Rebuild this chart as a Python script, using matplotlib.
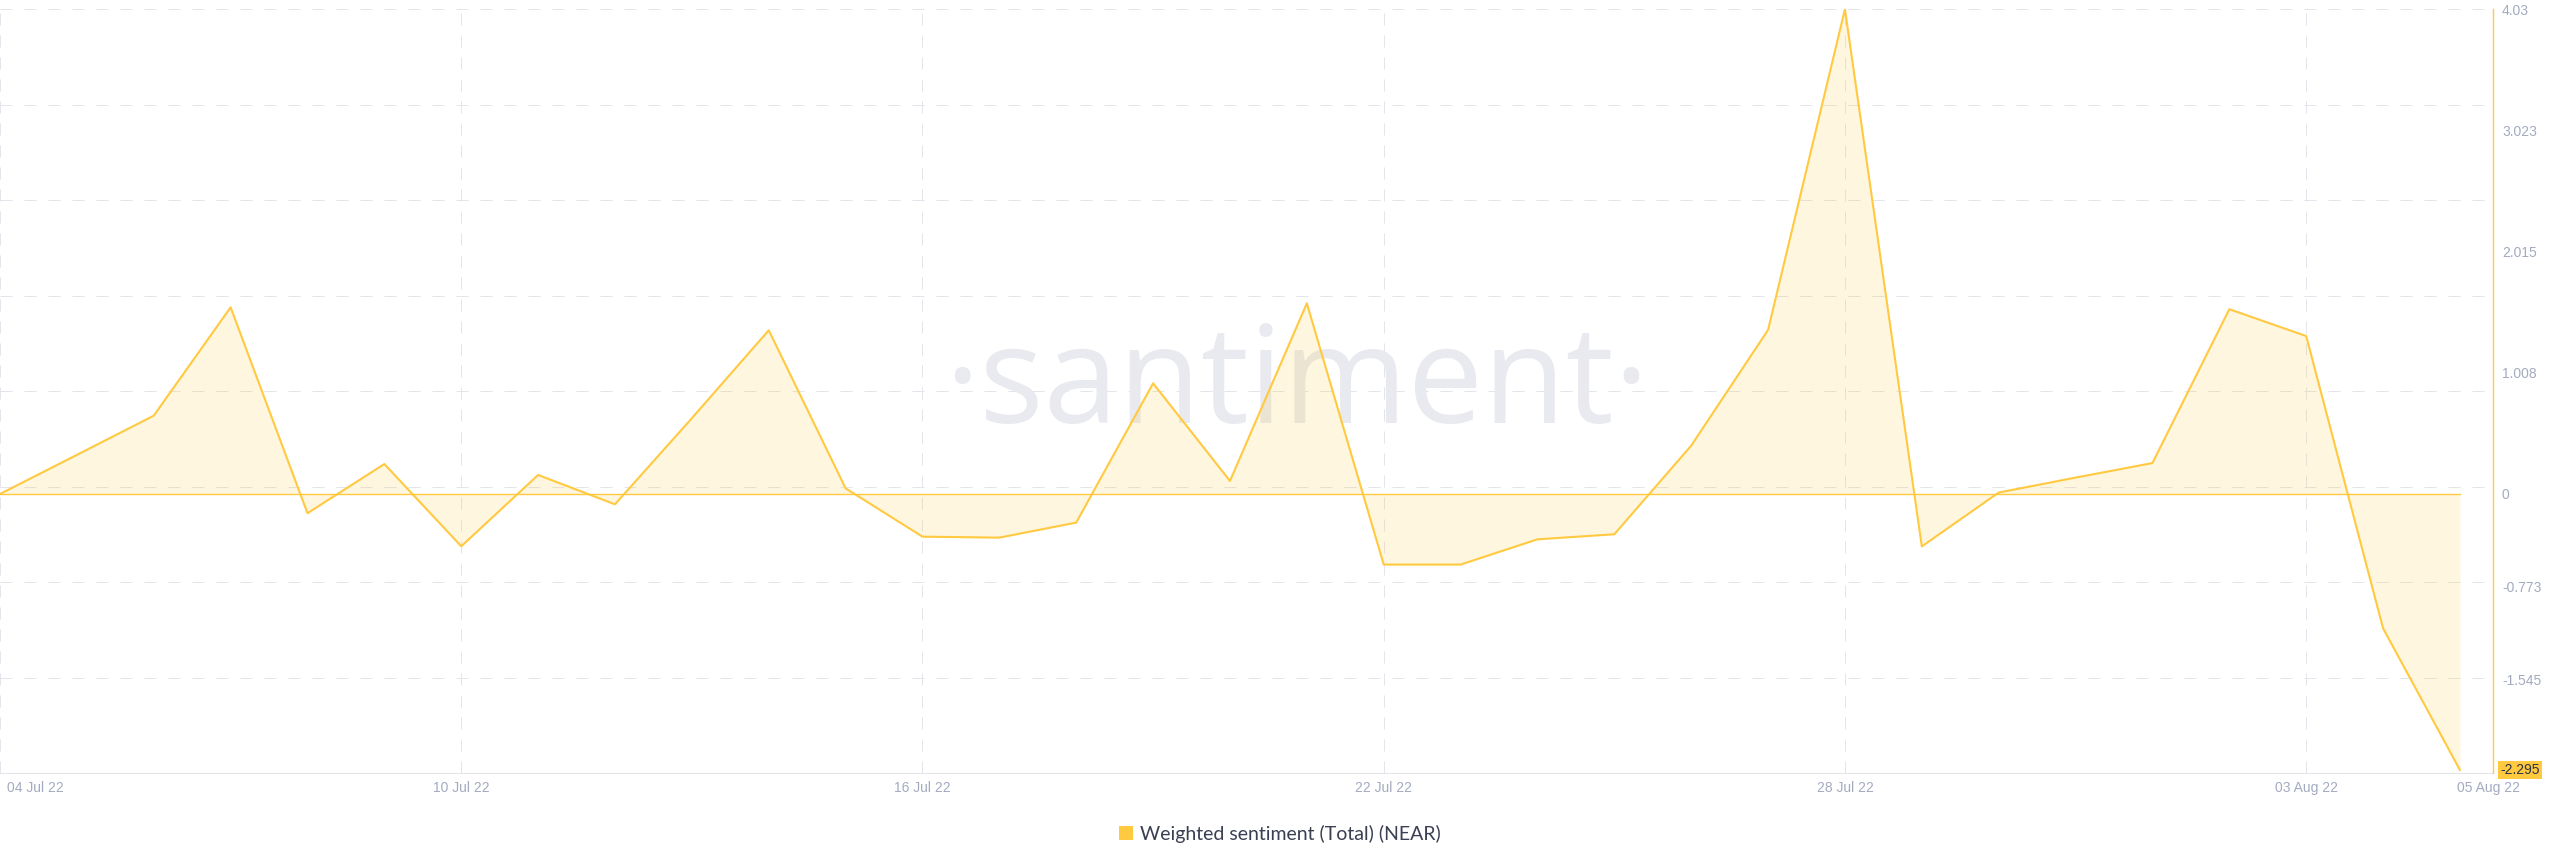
import numpy as np
import pandas as pd
import matplotlib
matplotlib.use("Agg")
import matplotlib.pyplot as plt
from matplotlib.patches import Patch
from matplotlib.transforms import ScaledTranslation

# data (one point per day)
dates = pd.date_range("2022-07-04", "2022-08-05", freq="D")
sentiment = [0.0, 0.325, 0.651, 1.552, -0.160, 0.249, -0.435, 0.158, -0.086, 0.63,
             1.361, 0.047, -0.355, -0.363, -0.238, 0.920, 0.108, 1.585, -0.587, -0.587,
             -0.377, -0.335, 0.402, 1.364, 4.03, -0.436, 0.012, 0.136, 0.257, 1.536,
             1.313, -1.117, -2.295]

ytick_vals = [4.03, 3.023, 2.015, 1.008, 0, -0.773, -1.545]
ytick_labels = ["4.03", "3.023", "2.015", "1.008", "0", "-0.773", "-1.545"]
last_label = "-2.295"

xtick_dates = pd.to_datetime(["2022-07-04", "2022-07-10", "2022-07-16",
                              "2022-07-22", "2022-07-28", "2022-08-03"])
xtick_labels = ["04 Jul 22", "10 Jul 22", "16 Jul 22", "22 Jul 22", "28 Jul 22", "03 Aug 22"]
end_label = "05 Aug 22"
series_name = "Weighted sentiment (Total) (NEAR)"

yellow = "#FFC940"
grid_c = "#e3e5eb"
tick_c = "#a4abc0"

plt.rcParams["font.family"] = ["Liberation Sans", "DejaVu Sans"]

fig = plt.figure(figsize=(25.6, 8.67), dpi=100)
ax = fig.add_axes([0, 0.1084, 0.9738, 0.8812])

ymin, ymax = -2.32, 4.032
xmin = dates[0]
xmax = dates[-1] + pd.Timedelta(hours=10.3)
ax.set_xlim(xmin, xmax)
ax.set_ylim(ymin, ymax)

# evenly spaced horizontal grid (not tied to tick values)
for k in range(8):
    gy = ymax - k * (ymax - ymin) / 8
    ax.axhline(gy, color=grid_c, lw=0.72, dashes=(12, 12), zorder=0)
for d in xtick_dates:
    ax.axvline(d, color=grid_c, lw=0.72, dashes=(12, 10), zorder=0)

# watermark
ax.text(0.52, 0.458, "\u00b7santiment\u00b7", transform=ax.transAxes, ha="center",
        va="baseline", fontsize=97, color="#e9eaef", family="Open Sans", zorder=0)

ax.fill_between(dates, sentiment, 0, color=yellow, alpha=0.16, lw=0, zorder=1)
ax.plot([dates[0], dates[-1]], [0, 0], color=yellow, lw=1.0, zorder=2)
ax.plot(dates, sentiment, color=yellow, lw=1.5, zorder=3)

for s in ["top", "left"]:
    ax.spines[s].set_visible(False)
ax.spines["right"].set_color(yellow)
ax.spines["right"].set_linewidth(1.0)
ax.spines["bottom"].set_color(grid_c)
ax.spines["bottom"].set_linestyle((0, (2, 1)))

ax.yaxis.tick_right()
ax.set_yticks(ytick_vals)
ax.set_yticklabels(ytick_labels)
ax.tick_params(axis="y", length=0, pad=6.5, labelsize=10, labelcolor=tick_c)

ax.set_xticks(xtick_dates)
ax.set_xticklabels(xtick_labels)
ax.tick_params(axis="x", length=0, pad=6, labelsize=10, labelcolor=tick_c)
first = ax.get_xticklabels()[0]
first.set_horizontalalignment("left")
first.set_transform(first.get_transform() + ScaledTranslation(5 / 72, 0, fig.dpi_scale_trans))

ax.annotate(end_label, xy=(xmax, 0), xycoords=("data", "axes fraction"),
            xytext=(-3, -6), textcoords="offset points", ha="center", va="top",
            fontsize=10, color=tick_c)

ax.annotate(last_label, xy=(1, sentiment[-1]), xycoords=("axes fraction", "data"),
            xytext=(7, 0), textcoords="offset pixels", ha="left", va="center",
            fontsize=10, color="#2f3340",
            bbox=dict(boxstyle="square,pad=0.15", fc=yellow, ec="none"))

fig.legend(handles=[Patch(facecolor=yellow, label=series_name)], loc="center",
           bbox_to_anchor=(0.5, 0.038), frameon=False, handlelength=0.7,
           handleheight=0.7, handletextpad=0.4, labelcolor="#3a3f52",
           prop={"family": "Lato", "size": 14})

fig.savefig("out.png", dpi=100, facecolor="white")
